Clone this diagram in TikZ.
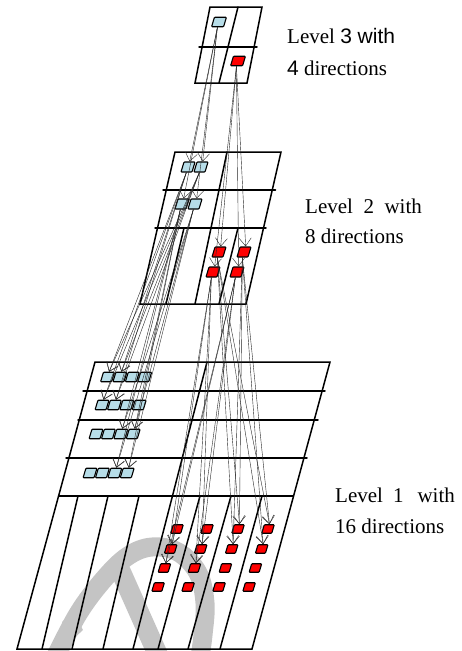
\documentclass[tikz,border=0pt]{standalone}
\usepackage{fontspec}
\setmainfont{Liberation Serif}
\setsansfont{Liberation Sans}
\usetikzlibrary{arrows.meta}
\definecolor{lblue}{RGB}{183,221,232}
\definecolor{embgray}{RGB}{196,196,196}
\tikzset{
  sq/.style={rectangle, xslant=0.3, draw=black, line width=1.1pt, inner sep=0pt,
    rounded corners=0.8pt, minimum height=9.5pt, minimum width=11pt},
  bsq/.style={sq, fill=lblue},
  rsq/.style={sq, fill=red, minimum width=10pt, minimum height=8.5pt},
  frame/.style={line width=1.5pt, line cap=round},
  link/.style={line width=0.4pt, draw=black!85,
    -{Straight Barb[length=8pt,width=12pt,line width=0.4pt]}},
  lbl/.style={anchor=base west, inner sep=0pt, font=\fontsize{21}{25}\selectfont}
}
\begin{document}
\begin{tikzpicture}[x=1pt,y=-1pt]
\useasboundingbox (0,0) rectangle (461,651);

% background emblem
\begin{scope}
  \clip (0,0) rectangle (461,651);
  \draw[draw=embgray, line width=19pt] plot[smooth, tension=0.6] coordinates
    {(52,664) (78,614) (104,579) (128,556) (152,547) (178,552) (198,573) (205,603) (203,635) (199,664)};
  \draw[draw=embgray, line width=20pt, line cap=round] (121,572) -- (162,664);
  \fill[embgray] (62,622) -- (73,611) -- (83,630) -- (70,642) -- cycle;
\end{scope}

% level 3 frame
\draw[frame] (210,7) -- (262,7) -- (247,83) -- (195,83) -- cycle;
\draw[frame] (199,47) -- (257,47);
\draw[frame] (238,7) -- (219,83);

% level 2 frame
\draw[frame] (175,152) -- (281,152) -- (246,304) -- (140,304) -- cycle;
\draw[frame] (163,190) -- (275.5,190);
\draw[frame] (155,228) -- (266,228);
\draw[frame] (227,152) -- (195,304);
\draw[frame] (184,228) -- (166,304);
\draw[frame] (238,228) -- (219,304);

% level 1 frame
\draw[frame] (95,362) -- (330,362) -- (252,649) -- (17,649) -- cycle;
\draw[frame] (83,391) -- (325,391);
\draw[frame] (78,420) -- (318,420);
\draw[frame] (66,458) -- (307,458);
\draw[frame] (58.5,496) -- (293.5,496);
\draw[frame] (207,362) -- (133,649);
\foreach \t/\b in {78/42, 108/72, 139/103, 200/158, 231/188, 262/220}
  \draw[frame] (\t,496) -- (\b,649);

% level 3 cells
\node[bsq, minimum width=12pt] (b3) at (219,22) {};
\node[rsq, minimum width=12pt, minimum height=9.5pt] (r3) at (238,61) {};

% level 2 cells
\node[bsq, minimum height=10pt] (b2a) at (188,167) {};
\node[bsq, minimum height=10pt] (b2b) at (201,167) {};
\node[bsq, minimum height=10pt] (b2c) at (182,204) {};
\node[bsq, minimum height=10pt] (b2d) at (195,204) {};
\node[rsq, minimum width=11pt, minimum height=10pt] (r2a) at (219,252) {};
\node[rsq, minimum width=11pt, minimum height=10pt] (r2b) at (244,252) {};
\node[rsq, minimum width=11pt, minimum height=10pt] (r2c) at (213,272) {};
\node[rsq, minimum width=11pt, minimum height=10pt] (r2d) at (237,272) {};

% level 1 cells
\foreach \r/\y/\x in {1/377/107.5, 2/405/102, 3/434/96, 4/473/90}
  \foreach \c in {1,...,4}
    \node[bsq] (b1-\r-\c) at ({\x+12.4*(\c-1)},\y) {};
\foreach \c/\x in {1/177, 2/207, 3/238, 4/268}
  \foreach \r/\y in {1/529, 2/549, 3/568, 4/587}
    \node[rsq] (r1-\c-\r) at ({\x-6.3*(\r-1)},\y) {};

% links level 3 -> level 2
\foreach \t in {b2a,b2b,b2c,b2d} \draw[link] (b3.south) -- (\t.north);
\foreach \t in {r2a,r2b,r2c,r2d} \draw[link] (r3.south) -- (\t.north);

% links level 2 -> level 1
\foreach \s in {b2a,b2b}
  \foreach \t in {b1-1-1,b1-1-2,b1-2-1,b1-2-2} \draw[link] (\s.south) -- (\t.north);
\foreach \s in {b2c,b2d}
  \foreach \t in {b1-3-3,b1-3-4,b1-4-3,b1-4-4} \draw[link] (\s.south) -- (\t.north);
\foreach \s in {r2a,r2b}
  \foreach \t in {r1-3-1,r1-4-1,r1-3-2,r1-4-2} \draw[link] (\s.south) -- (\t.north);
\foreach \s in {r2c,r2d}
  \foreach \t in {r1-1-2,r1-2-2,r1-1-3,r1-2-3} \draw[link] (\s.south) -- (\t.north);

% captions
\node[lbl] (t3a) at (287,43) {Level \textsf{3 with}};
\node[lbl] (t3b) at (287,75) {\textsf{4} directions};
\node[lbl] (t2a) at (305,213) {Level\ \ 2\ \ with};
\node[lbl] (t2b) at (305,243) {8 directions};
\node[lbl] (t1a) at (335,502) {Level\hspace{10pt}1\hspace{14pt}with};
\node[lbl] (t1b) at (335,533) {16 directions};
\end{tikzpicture}
\end{document}
